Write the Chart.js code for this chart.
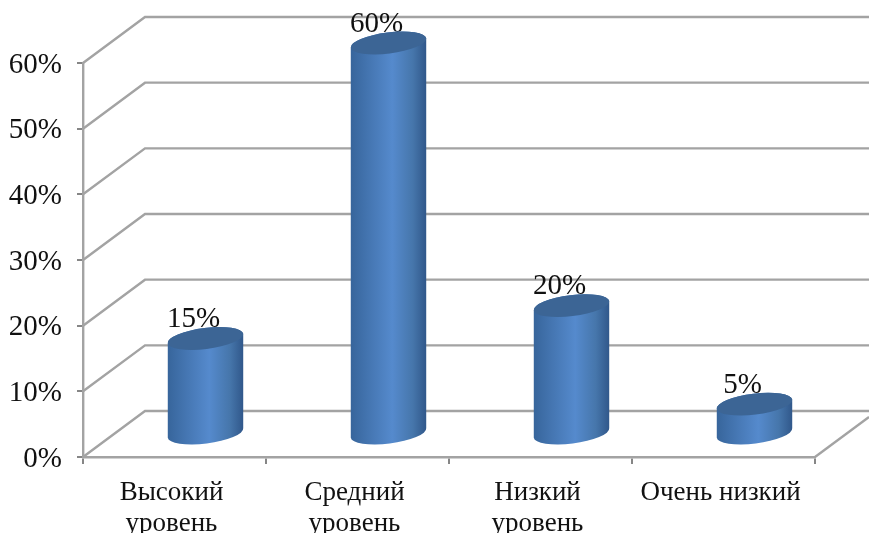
<!DOCTYPE html>
<html>
<head>
<meta charset="utf-8">
<style>
  html, body { margin: 0; padding: 0; background: #fff; overflow: hidden; }
  canvas { display: block; }
</style>
<script src="https://cdn.jsdelivr.net/npm/chart.js@4/dist/chart.umd.min.js"></script>
</head>
<body>
<canvas id="levelsChart" width="869" height="533"></canvas>
<script>
const categories = [['Высокий', 'уровень'], ['Средний', 'уровень'], ['Низкий', 'уровень'], 'Очень низкий'];
const percentValues = [15, 60, 20, 5];

const FONT = '"Liberation Serif", serif';
const GRID_COLOR = '#a3a3a3';

// depth of the fake 3d box
const DEPTH_X = 62;
const DEPTH_Y = 46;
// cylinders stand in the middle of the floor
const BAR_SHIFT_X = 31;
const TOP_SHIFT_Y = 20;
const BASE_SHIFT_Y = 23;
const RADIUS_Y = 10.5;
const TILT = -7 * Math.PI / 180;

const box3d = {
  id: 'box3d',
  beforeDatasetsDraw(chart) {
    const { ctx, chartArea, scales } = chart;
    ctx.save();
    ctx.strokeStyle = GRID_COLOR;
    ctx.lineWidth = 2.4;
    scales.y.ticks.forEach(t => {
      const y = scales.y.getPixelForValue(t.value);
      ctx.beginPath();
      ctx.moveTo(chartArea.left, y);
      ctx.lineTo(chartArea.left + DEPTH_X, y - DEPTH_Y);
      ctx.lineTo(chart.width, y - DEPTH_Y);
      ctx.stroke();
    });
    // right edge of the floor
    ctx.beginPath();
    ctx.moveTo(chartArea.right, chartArea.bottom);
    ctx.lineTo(chart.width, chartArea.bottom - DEPTH_Y * (chart.width - chartArea.right) / DEPTH_X);
    ctx.stroke();

    // the labels sit behind the cylinders, their tops cut into the text
    ctx.fillStyle = '#111';
    ctx.font = '29px ' + FONT;
    ctx.textAlign = 'center';
    ctx.textBaseline = 'middle';
    chart.getDatasetMeta(0).data.forEach((bar, i) => {
      ctx.fillText(percentValues[i] + '%', bar.x + BAR_SHIFT_X - 12, bar.y - TOP_SHIFT_Y - 19);
    });
    ctx.restore();
  },
  afterDatasetsDraw(chart) {
    const { ctx } = chart;
    chart.getDatasetMeta(0).data.forEach(bar => {
      const cx = bar.x + BAR_SHIFT_X;
      const rx = bar.width / 2;
      const top = bar.y - TOP_SHIFT_Y;
      const base = bar.base - BASE_SHIFT_Y;

      const side = ctx.createLinearGradient(cx - rx, 0, cx + rx, 0);
      side.addColorStop(0, '#37659b');
      side.addColorStop(0.25, '#4576b2');
      side.addColorStop(0.55, '#558acd');
      side.addColorStop(0.82, '#4676ab');
      side.addColorStop(1, '#30578a');

      ctx.save();
      ctx.fillStyle = side;
      ctx.beginPath();
      ctx.ellipse(cx, top, rx, RADIUS_Y, TILT, Math.PI, 2 * Math.PI);
      ctx.ellipse(cx, base, rx, RADIUS_Y, TILT, 0, Math.PI);
      ctx.closePath();
      ctx.fill();

      ctx.fillStyle = '#3c6595';
      ctx.beginPath();
      ctx.ellipse(cx, top, rx, RADIUS_Y, TILT, 0, 2 * Math.PI);
      ctx.fill();
      ctx.restore();
    });
  }
};

new Chart(document.getElementById('levelsChart'), {
  type: 'bar',
  data: {
    labels: categories,
    datasets: [{
      data: percentValues,
      backgroundColor: 'transparent',
      categoryPercentage: 1,
      barPercentage: 76 / 183
    }]
  },
  options: {
    responsive: false,
    animation: false,
    layout: { padding: { top: 63, right: 54 } },
    plugins: { legend: { display: false }, tooltip: { enabled: false } },
    scales: {
      x: {
        grid: { offset: true, drawOnChartArea: false, color: '#868686', lineWidth: 2, tickLength: 7 },
        border: { color: GRID_COLOR, width: 2.4 },
        ticks: {
          color: '#111',
          font: { family: FONT, size: 27, lineHeight: 1.15 },
          padding: 13,
          labelOffset: -3,
          maxRotation: 0,
          autoSkip: false
        },
        afterFit(scale) { scale.height = 76; }
      },
      y: {
        min: 0,
        max: 60,
        grid: { drawOnChartArea: false, color: '#868686', lineWidth: 2, tickLength: 6 },
        border: { color: GRID_COLOR, width: 2.4 },
        ticks: {
          stepSize: 10,
          color: '#111',
          font: { family: FONT, size: 29 },
          padding: 15,
          labelOffset: 2,
          callback: v => v + '%'
        },
        afterFit(scale) { scale.width = 83; }
      }
    }
  },
  plugins: [box3d]
});
</script>
</body>
</html>
